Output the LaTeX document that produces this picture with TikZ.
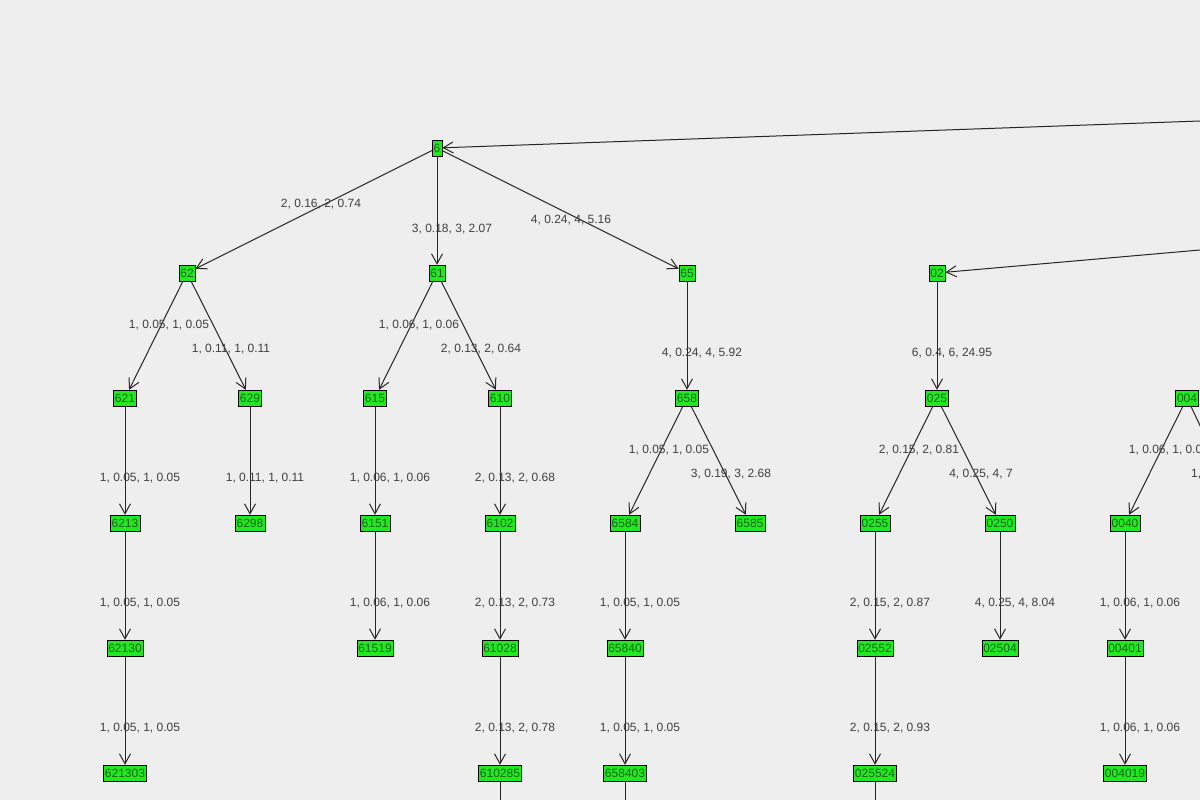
\documentclass[tikz,border=0pt]{standalone}
\usepackage{fontspec}
\setmainfont{Liberation Sans}
\usetikzlibrary{arrows.meta}
\definecolor{bg}{HTML}{EEEEEE}
\definecolor{nodegreen}{HTML}{22E822}
\definecolor{txtgreen}{HTML}{116611}
\begin{document}
\begin{tikzpicture}[x=1pt,y=-1pt,
  nd/.style={draw=black,fill=nodegreen,text=txtgreen,font=\fontsize{12}{13}\selectfont,inner sep=1.5pt,minimum height=16pt,minimum width=10pt},
  ed/.style={draw=black!85,line width=1pt,-{Straight Barb[length=10pt,width=11pt]}},
  ln/.style={draw=black!85,line width=1pt},
  lb/.style={font=\fontsize{12}{13}\selectfont,text=black!75,inner sep=0pt}]
\fill[bg] (0,0) rectangle (1200,800);
\useasboundingbox (0,0) rectangle (1200,800);
\clip (0,0) rectangle (1200,800);
% nodes
\node[nd] (n6) at (437,148) {6};
\node[nd] (n62) at (187,273) {62};
\node[nd] (n61) at (437,273) {61};
\node[nd] (n65) at (687,273) {65};
\node[nd] (n02) at (937,273) {02};
\node[nd] (n621) at (125,398) {621};
\node[nd] (n629) at (250,398) {629};
\node[nd] (n615) at (375,398) {615};
\node[nd] (n610) at (500,398) {610};
\node[nd] (n658) at (687,398) {658};
\node[nd] (n025) at (937,398) {025};
\node[nd] (n004) at (1187,398) {004};
\node[nd] (n6213) at (125,523) {6213};
\node[nd] (n6298) at (250,523) {6298};
\node[nd] (n6151) at (375,523) {6151};
\node[nd] (n6102) at (500,523) {6102};
\node[nd] (n6584) at (625,523) {6584};
\node[nd] (n6585) at (750,523) {6585};
\node[nd] (n0255) at (875,523) {0255};
\node[nd] (n0250) at (1000,523) {0250};
\node[nd] (n0040) at (1125,523) {0040};
\node[nd] (n62130) at (125,648) {62130};
\node[nd] (n61519) at (375,648) {61519};
\node[nd] (n61028) at (500,648) {61028};
\node[nd] (n65840) at (625,648) {65840};
\node[nd] (n02552) at (875,648) {02552};
\node[nd] (n02504) at (1000,648) {02504};
\node[nd] (n00401) at (1125,648) {00401};
\node[nd] (n621303) at (125,773) {621303};
\node[nd] (n610285) at (500,773) {610285};
\node[nd] (n658403) at (625,773) {658403};
\node[nd] (n025524) at (875,773) {025524};
\node[nd] (n004019) at (1125,773) {004019};
\coordinate (r6) at (1200,121);
\coordinate (r02) at (1200,250);
\coordinate (r004) at (1240,510);
\coordinate (b1) at (500,805);
\coordinate (b2) at (625,805);
\coordinate (b3) at (875,805);
% edges
\draw[ed] (r6) -- (n6);
\draw[ed] (r02) -- (n02);
\draw[ed] (n6) -- (n62);
\draw[ed] (n6) -- (n61);
\draw[ed] (n6) -- (n65);
\draw[ed] (n62) -- (n621);
\draw[ed] (n62) -- (n629);
\draw[ed] (n61) -- (n615);
\draw[ed] (n61) -- (n610);
\draw[ed] (n65) -- (n658);
\draw[ed] (n02) -- (n025);
\draw[ed] (n621) -- (n6213);
\draw[ed] (n629) -- (n6298);
\draw[ed] (n615) -- (n6151);
\draw[ed] (n610) -- (n6102);
\draw[ed] (n658) -- (n6584);
\draw[ed] (n658) -- (n6585);
\draw[ed] (n025) -- (n0255);
\draw[ed] (n025) -- (n0250);
\draw[ed] (n004) -- (n0040);
\draw[ln] (n004) -- (r004);
\draw[ed] (n6213) -- (n62130);
\draw[ed] (n6151) -- (n61519);
\draw[ed] (n6102) -- (n61028);
\draw[ed] (n6584) -- (n65840);
\draw[ed] (n0255) -- (n02552);
\draw[ed] (n0250) -- (n02504);
\draw[ed] (n0040) -- (n00401);
\draw[ed] (n62130) -- (n621303);
\draw[ed] (n61028) -- (n610285);
\draw[ed] (n65840) -- (n658403);
\draw[ed] (n02552) -- (n025524);
\draw[ed] (n00401) -- (n004019);
\draw[ln] (n610285) -- (b1);
\draw[ln] (n658403) -- (b2);
\draw[ln] (n025524) -- (b3);
% labels
\node[lb] at (321,204) {2, 0.16, 2, 0.74};
\node[lb] at (452,229) {3, 0.18, 3, 2.07};
\node[lb] at (571,220) {4, 0.24, 4, 5.16};
\node[lb] at (169,325) {1, 0.05, 1, 0.05};
\node[lb] at (231,349) {1, 0.11, 1, 0.11};
\node[lb] at (419,325) {1, 0.06, 1, 0.06};
\node[lb] at (481,349) {2, 0.13, 2, 0.64};
\node[lb] at (702,353) {4, 0.24, 4, 5.92};
\node[lb] at (952,353) {6, 0.4, 6, 24.95};
\node[lb] at (140,478) {1, 0.05, 1, 0.05};
\node[lb] at (265,478) {1, 0.11, 1, 0.11};
\node[lb] at (390,478) {1, 0.06, 1, 0.06};
\node[lb] at (515,478) {2, 0.13, 2, 0.68};
\node[lb] at (669,450) {1, 0.05, 1, 0.05};
\node[lb] at (731,474) {3, 0.19, 3, 2.68};
\node[lb] at (919,450) {2, 0.15, 2, 0.81};
\node[lb] at (981,474) {4, 0.25, 4, 7};
\node[lb] at (1169,450) {1, 0.06, 1, 0.06};
\node[lb,anchor=west] at (1191,474) {1,};
\node[lb] at (140,603) {1, 0.05, 1, 0.05};
\node[lb] at (390,603) {1, 0.06, 1, 0.06};
\node[lb] at (515,603) {2, 0.13, 2, 0.73};
\node[lb] at (640,603) {1, 0.05, 1, 0.05};
\node[lb] at (890,603) {2, 0.15, 2, 0.87};
\node[lb] at (1015,603) {4, 0.25, 4, 8.04};
\node[lb] at (1140,603) {1, 0.06, 1, 0.06};
\node[lb] at (140,728) {1, 0.05, 1, 0.05};
\node[lb] at (515,728) {2, 0.13, 2, 0.78};
\node[lb] at (640,728) {1, 0.05, 1, 0.05};
\node[lb] at (890,728) {2, 0.15, 2, 0.93};
\node[lb] at (1140,728) {1, 0.06, 1, 0.06};
\end{tikzpicture}
\end{document}
